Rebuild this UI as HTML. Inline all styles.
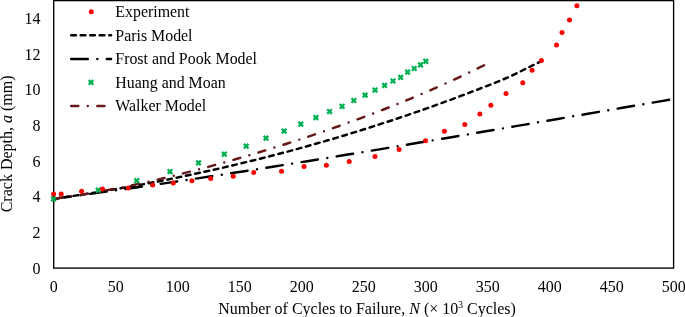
<!DOCTYPE html>
<html><head><meta charset="utf-8"><style>
html,body{margin:0;padding:0;background:#fff;}
svg{display:block;will-change:transform;}
text{font-family:"Liberation Serif",serif;font-size:16px;fill:#000;}
</style></head><body>
<svg width="685" height="317" viewBox="0 0 685 317">
<rect x="53.7" y="0.6" width="619.9" height="267.5" fill="none" stroke="#000" stroke-width="1.35"/><g fill="none" stroke-linejoin="round" stroke-linecap="round" stroke-dashoffset="-1.188"><path d="M53.70,198.77 L61.41,197.68 L69.11,196.56 L76.82,195.41 L84.53,194.23 L92.23,193.02 L99.94,191.78 L107.65,190.51 L115.35,189.20 L123.06,187.87 L130.77,186.50 L138.47,185.10 L146.18,183.67 L153.89,182.21 L161.59,180.72 L169.30,179.19 L177.01,177.63 L184.72,176.04 L192.42,174.41 L200.13,172.75 L207.84,171.06 L215.54,169.33 L223.25,167.58 L230.96,165.78 L238.66,163.96 L246.37,162.10 L254.08,160.20 L261.78,158.27 L269.49,156.31 L277.20,154.31 L284.90,152.28 L292.61,150.21 L300.32,148.10 L308.02,145.96 L315.73,143.79 L323.44,141.58 L331.14,139.33 L338.85,137.04 L346.56,134.72 L354.26,132.37 L361.97,129.97 L369.68,127.54 L377.38,125.08 L385.09,122.57 L392.80,120.03 L400.51,117.45 L408.21,114.83 L415.92,112.18 L423.63,109.49 L431.33,106.75 L439.04,103.98 L446.75,101.18 L454.45,98.33 L462.16,95.44 L469.87,92.52 L477.57,89.55 L485.28,86.55 L492.99,83.50 L500.69,80.42 L508.40,77.30 L541.30,61.20" stroke="#000" stroke-width="2.45" stroke-dasharray="4.75 4.75"/><path d="M53.70,198.77 L64.20,197.38 L74.71,195.98 L85.21,194.55 L95.71,193.12 L106.22,191.66 L116.72,190.19 L127.22,188.71 L137.73,187.20 L148.23,185.69 L158.73,184.16 L169.24,182.62 L179.74,181.06 L190.24,179.49 L200.75,177.90 L211.25,176.31 L221.75,174.70 L232.26,173.08 L242.76,171.44 L253.26,169.80 L263.77,168.15 L274.27,166.48 L284.77,164.81 L295.28,163.12 L305.78,161.43 L316.28,159.73 L326.79,158.02 L337.29,156.30 L347.79,154.57 L358.30,152.84 L368.80,151.09 L379.31,149.34 L389.81,147.59 L400.31,145.83 L410.82,144.06 L421.32,142.29 L431.82,140.51 L442.33,138.73 L452.83,136.94 L463.33,135.15 L473.84,133.36 L484.34,131.56 L494.84,129.76 L505.35,127.96 L515.85,126.15 L526.35,124.35 L536.86,122.54 L547.36,120.73 L557.86,118.92 L568.37,117.11 L578.87,115.30 L589.37,113.49 L599.88,111.68 L610.38,109.88 L620.88,108.07 L631.39,106.27 L641.89,104.46 L652.39,102.66 L662.90,100.87 L673.40,99.07" stroke="#000" stroke-width="2.45" stroke-dasharray="16.62 9.50 0 9.50"/><path d="M53.70,198.65 L61.00,197.70 L68.30,196.69 L75.61,195.60 L82.91,194.46 L90.21,193.25 L97.51,191.98 L104.81,190.66 L112.11,189.28 L119.42,187.85 L126.72,186.37 L134.02,184.84 L141.32,183.26 L148.62,181.64 L155.92,179.97 L163.23,178.26 L170.53,176.51 L177.83,174.71 L185.13,172.88 L192.43,171.01 L199.73,169.10 L207.04,167.15 L214.34,165.17 L221.64,163.15 L228.94,161.10 L236.24,159.01 L243.54,156.89 L250.85,154.74 L258.15,152.55 L265.45,150.33 L272.75,148.07 L280.05,145.78 L287.35,143.46 L294.66,141.11 L301.96,138.72 L309.26,136.29 L316.56,133.83 L323.86,131.34 L331.16,128.81 L338.47,126.24 L345.77,123.63 L353.07,120.98 L360.37,118.30 L367.67,115.57 L374.97,112.80 L382.28,109.99 L389.58,107.13 L396.88,104.22 L404.18,101.27 L411.48,98.27 L418.78,95.21 L426.09,92.10 L433.39,88.94 L440.69,85.71 L447.99,82.43 L455.29,79.09 L462.59,75.68 L469.90,72.20 L477.20,68.66 L484.50,65.04" stroke="#641818" stroke-width="2.45" stroke-dasharray="7.12 9.50 0 9.50"/></g><g fill="none"><path d="M51.20,196.60L55.80,201.20M51.20,201.20L55.80,196.60" stroke="#00B050" stroke-width="2.3" stroke-linecap="butt"/><path d="M95.90,187.80L100.50,192.40M95.90,192.40L100.50,187.80" stroke="#00B050" stroke-width="2.3" stroke-linecap="butt"/><path d="M134.40,178.40L139.00,183.00M134.40,183.00L139.00,178.40" stroke="#00B050" stroke-width="2.3" stroke-linecap="butt"/><path d="M167.70,169.30L172.30,173.90M167.70,173.90L172.30,169.30" stroke="#00B050" stroke-width="2.3" stroke-linecap="butt"/><path d="M196.20,160.50L200.80,165.10M196.20,165.10L200.80,160.50" stroke="#00B050" stroke-width="2.3" stroke-linecap="butt"/><path d="M222.00,151.90L226.60,156.50M222.00,156.50L226.60,151.90" stroke="#00B050" stroke-width="2.3" stroke-linecap="butt"/><path d="M243.90,143.90L248.50,148.50M243.90,148.50L248.50,143.90" stroke="#00B050" stroke-width="2.3" stroke-linecap="butt"/><path d="M263.70,135.90L268.30,140.50M263.70,140.50L268.30,135.90" stroke="#00B050" stroke-width="2.3" stroke-linecap="butt"/><path d="M281.80,128.80L286.40,133.40M281.80,133.40L286.40,128.80" stroke="#00B050" stroke-width="2.3" stroke-linecap="butt"/><path d="M298.50,121.90L303.10,126.50M298.50,126.50L303.10,121.90" stroke="#00B050" stroke-width="2.3" stroke-linecap="butt"/><path d="M313.60,115.30L318.20,119.90M313.60,119.90L318.20,115.30" stroke="#00B050" stroke-width="2.3" stroke-linecap="butt"/><path d="M327.20,109.30L331.80,113.90M327.20,113.90L331.80,109.30" stroke="#00B050" stroke-width="2.3" stroke-linecap="butt"/><path d="M339.80,104.00L344.40,108.60M339.80,108.60L344.40,104.00" stroke="#00B050" stroke-width="2.3" stroke-linecap="butt"/><path d="M351.50,98.20L356.10,102.80M351.50,102.80L356.10,98.20" stroke="#00B050" stroke-width="2.3" stroke-linecap="butt"/><path d="M362.80,92.90L367.40,97.50M362.80,97.50L367.40,92.90" stroke="#00B050" stroke-width="2.3" stroke-linecap="butt"/><path d="M372.70,87.80L377.30,92.40M372.70,92.40L377.30,87.80" stroke="#00B050" stroke-width="2.3" stroke-linecap="butt"/><path d="M382.30,83.10L386.90,87.70M382.30,87.70L386.90,83.10" stroke="#00B050" stroke-width="2.3" stroke-linecap="butt"/><path d="M390.70,78.70L395.30,83.30M390.70,83.30L395.30,78.70" stroke="#00B050" stroke-width="2.3" stroke-linecap="butt"/><path d="M398.40,75.10L403.00,79.70M398.40,79.70L403.00,75.10" stroke="#00B050" stroke-width="2.3" stroke-linecap="butt"/><path d="M405.30,69.80L409.90,74.40M405.30,74.40L409.90,69.80" stroke="#00B050" stroke-width="2.3" stroke-linecap="butt"/><path d="M411.90,66.20L416.50,70.80M411.90,70.80L416.50,66.20" stroke="#00B050" stroke-width="2.3" stroke-linecap="butt"/><path d="M418.20,62.60L422.80,67.20M418.20,67.20L422.80,62.60" stroke="#00B050" stroke-width="2.3" stroke-linecap="butt"/><path d="M423.50,59.00L428.10,63.60M423.50,63.60L428.10,59.00" stroke="#00B050" stroke-width="2.3" stroke-linecap="butt"/></g><g><circle cx="53.60" cy="193.90" r="2.5" fill="#FF0000"/><circle cx="61.20" cy="193.90" r="2.5" fill="#FF0000"/><circle cx="81.60" cy="191.20" r="2.5" fill="#FF0000"/><circle cx="102.50" cy="189.10" r="2.5" fill="#FF0000"/><circle cx="128.30" cy="188.00" r="2.5" fill="#FF0000"/><circle cx="152.70" cy="185.10" r="2.5" fill="#FF0000"/><circle cx="173.30" cy="183.00" r="2.5" fill="#FF0000"/><circle cx="191.90" cy="180.80" r="2.5" fill="#FF0000"/><circle cx="210.70" cy="178.50" r="2.5" fill="#FF0000"/><circle cx="233.20" cy="176.20" r="2.5" fill="#FF0000"/><circle cx="253.80" cy="172.40" r="2.5" fill="#FF0000"/><circle cx="281.50" cy="171.20" r="2.5" fill="#FF0000"/><circle cx="304.00" cy="166.50" r="2.5" fill="#FF0000"/><circle cx="326.40" cy="165.20" r="2.5" fill="#FF0000"/><circle cx="349.20" cy="161.40" r="2.5" fill="#FF0000"/><circle cx="375.00" cy="156.60" r="2.5" fill="#FF0000"/><circle cx="399.10" cy="149.60" r="2.5" fill="#FF0000"/><circle cx="425.50" cy="140.80" r="2.5" fill="#FF0000"/><circle cx="444.40" cy="131.20" r="2.5" fill="#FF0000"/><circle cx="464.80" cy="124.50" r="2.5" fill="#FF0000"/><circle cx="479.90" cy="114.10" r="2.5" fill="#FF0000"/><circle cx="490.90" cy="105.30" r="2.5" fill="#FF0000"/><circle cx="506.00" cy="93.60" r="2.5" fill="#FF0000"/><circle cx="522.80" cy="82.80" r="2.5" fill="#FF0000"/><circle cx="532.10" cy="70.30" r="2.5" fill="#FF0000"/><circle cx="541.40" cy="60.50" r="2.5" fill="#FF0000"/><circle cx="556.50" cy="45.10" r="2.5" fill="#FF0000"/><circle cx="562.00" cy="32.50" r="2.5" fill="#FF0000"/><circle cx="569.50" cy="19.90" r="2.5" fill="#FF0000"/><circle cx="576.90" cy="5.70" r="2.5" fill="#FF0000"/></g><circle cx="91.30" cy="11.70" r="2.5" fill="#FF0000"/><g fill="none" stroke-linecap="round" stroke-dashoffset="-1.188"><path d="M70.0,35.3H111.075" stroke="#000" stroke-width="2.45" stroke-dasharray="4.75 4.75"/><path d="M70.0,58.9H111.075" stroke="#000" stroke-width="2.45" stroke-dasharray="16.62 9.50 0 9.50"/><path d="M88.70,80.10L93.30,84.70M88.70,84.70L93.30,80.10" stroke="#00B050" stroke-width="2.3" stroke-linecap="butt"/><path d="M70.0,105.9H111.075" stroke="#641818" stroke-width="2.45" stroke-dasharray="7.12 9.50 0 9.50"/></g>
<text x="115.3" y="17.00" style="font-size:15.9px">Experiment</text><text x="115.3" y="40.60" style="font-size:15.9px">Paris Model</text><text x="115.3" y="64.20" style="font-size:15.9px">Frost and Pook Model</text><text x="115.3" y="87.70" style="font-size:15.9px">Huang and Moan</text><text x="115.3" y="111.20" style="font-size:15.9px">Walker Model</text><text x="40.5" y="273.50" text-anchor="end">0</text><text x="40.5" y="237.84" text-anchor="end">2</text><text x="40.5" y="202.18" text-anchor="end">4</text><text x="40.5" y="166.52" text-anchor="end">6</text><text x="40.5" y="130.86" text-anchor="end">8</text><text x="40.5" y="95.20" text-anchor="end">10</text><text x="40.5" y="59.54" text-anchor="end">12</text><text x="40.5" y="23.88" text-anchor="end">14</text><text x="53.85" y="291.6" text-anchor="middle">0</text><text x="115.84" y="291.6" text-anchor="middle">50</text><text x="177.83" y="291.6" text-anchor="middle">100</text><text x="239.82" y="291.6" text-anchor="middle">150</text><text x="301.81" y="291.6" text-anchor="middle">200</text><text x="363.80" y="291.6" text-anchor="middle">250</text><text x="425.79" y="291.6" text-anchor="middle">300</text><text x="487.78" y="291.6" text-anchor="middle">350</text><text x="549.77" y="291.6" text-anchor="middle">400</text><text x="611.76" y="291.6" text-anchor="middle">450</text><text x="673.75" y="291.6" text-anchor="middle">500</text><text x="367" y="313.7" text-anchor="middle">Number of Cycles to Failure, <tspan font-style="italic">N</tspan> (× 10<tspan font-size="9.5" dy="-6">3</tspan><tspan dy="6"> Cycles)</tspan></text><text transform="translate(11.9,143.9) rotate(-90)" text-anchor="middle">Crack Depth, <tspan font-style="italic">a</tspan> (mm)</text>
</svg>
</body></html>
